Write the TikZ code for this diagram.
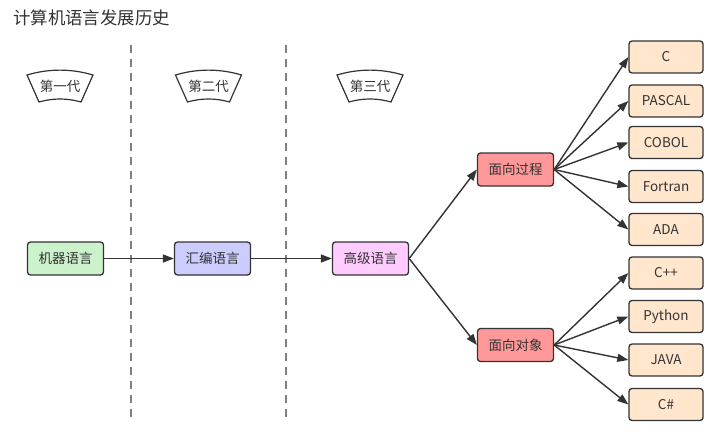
\documentclass[tikz,border=0pt]{standalone}
\usepackage{fontspec}
\setmainfont{Noto Sans CJK SC}
\usetikzlibrary{arrows.meta}
\definecolor{ink}{HTML}{333333}
\definecolor{cgreen}{HTML}{CCF2CC}
\definecolor{cblue}{HTML}{CCCCFF}
\definecolor{cpink}{HTML}{FFCCFF}
\definecolor{csalmon}{HTML}{FF9999}
\definecolor{cpeach}{HTML}{FFE6CC}
\definecolor{dashgray}{HTML}{808080}
\tikzset{
  box/.style={draw=ink, line width=1.3pt, rounded corners=3pt, minimum width=76pt, minimum height=33pt, inner sep=0pt, text=ink, font=\fontsize{13.5}{15}\selectfont},
  lang/.style={box, fill=cpeach, minimum width=74pt, minimum height=32pt},
  conn/.style={draw=ink, line width=1.4pt, -{Triangle[length=11pt,width=8pt]}},
  sep/.style={draw=dashgray, line width=1.8pt, dash pattern=on 8pt off 6pt},
  banner/.style={draw=ink, line width=1.2pt, fill=white},
  bannertext/.style={text=ink, font=\fontsize{13.5}{15}\selectfont, inner sep=0pt}
}
\begin{document}
\begin{tikzpicture}[x=1pt, y=-1pt]
\useasboundingbox (0,0) rectangle (719,441);
\fill[white] (0,0) rectangle (719,441);

% title
\node[anchor=west, text=ink, inner sep=0pt, font=\fontsize{17.4}{19}\selectfont] (title) at (13,18) {计算机语言发展历史};

% dashed separators
\coordinate (s1a) at (131,45); \coordinate (s1b) at (131,420);
\coordinate (s2a) at (286,45); \coordinate (s2b) at (286,418);
\draw[sep] (s1a) -- (s1b);
\draw[sep] (s2a) -- (s2b);

% banners
\foreach \cx/\lbl/\nm in {60/第一代/b1, 208.5/第二代/b2, 370/第三代/b3}{
  \draw[banner] (\cx-33,75) .. controls (\cx-11,68.5) and (\cx+11,68.5) .. (\cx+33,75)
     -- (\cx+21,102) .. controls (\cx+7,98) and (\cx-7,98) .. (\cx-21,102) -- cycle;
  \node[bannertext] (\nm) at (\cx,86) {\lbl};
}

% main nodes
\node[box, fill=cgreen] (m) at (65.5,258.5) {机器语言};
\node[box, fill=cblue] (a) at (212.5,258.5) {汇编语言};
\node[box, fill=cpink] (h) at (370.5,258.5) {高级语言};
\node[box, fill=csalmon] (p) at (515.5,169.5) {面向过程};
\node[box, fill=csalmon] (o) at (515.5,345) {面向对象};

% language nodes
\node[lang] (c) at (666,57) {C};
\node[lang] (pascal) at (666,101) {PASCAL};
\node[lang] (cobol) at (666,142.5) {COBOL};
\node[lang] (fortran) at (666,186.5) {Fortran};
\node[lang] (ada) at (666,229.5) {ADA};
\node[lang] (cpp) at (666,273) {C++};
\node[lang] (python) at (666,316.5) {Python};
\node[lang] (java) at (666,360) {JAVA};
\node[lang] (cs) at (666,404.5) {C\#};

% connectors
\draw[conn] (m) -- (a);
\draw[conn] (a) -- (h);
\draw[conn] (h.east) -- (p.west);
\draw[conn] (h.east) -- (o.west);
\foreach \t in {c,pascal,cobol,fortran,ada}{
  \draw[conn] (p.east) -- (\t.west);
}
\foreach \t in {cpp,python,java,cs}{
  \draw[conn] (o.east) -- (\t.west);
}
\end{tikzpicture}
\end{document}
